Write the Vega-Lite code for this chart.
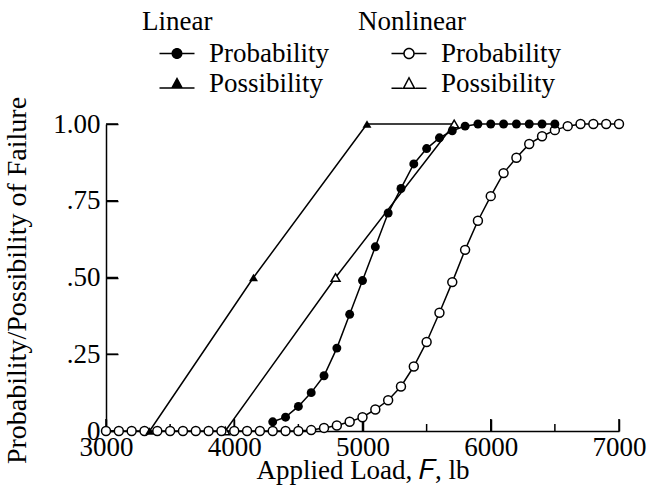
{
  "$schema": "https://vega.github.io/schema/vega-lite/v6.json",
  "width": 513,
  "height": 307,
  "autosize": "none",
  "padding": {"left": 106, "top": 124, "right": 36, "bottom": 65},
  "background": "white",
  "config": {
    "font": "Liberation Serif",
    "view": {"stroke": null},
    "axis": {
      "grid": false,
      "domainColor": "black",
      "domainWidth": 1.5,
      "tickColor": "black",
      "tickWidth": 1.5,
      "labelColor": "black",
      "labelFontSize": 27,
      "labelFont": "Liberation Serif",
      "labelFlush": false,
      "labelOverlap": false,
      "titleColor": "black",
      "titleFontSize": 27,
      "titleFont": "Liberation Serif",
      "titleFontWeight": "normal"
    },
    "legend": {
      "titleFont": "Liberation Serif",
      "titleFontSize": 27,
      "titleFontWeight": "normal",
      "titleColor": "black",
      "labelFont": "Liberation Serif",
      "labelFontSize": 27,
      "labelColor": "black",
      "padding": 0
    }
  },
  "datasets": {
    "curves": [
      {"model": "Linear", "measure": "Probability", "load": 4300, "p": 0.03},
      {"model": "Linear", "measure": "Probability", "load": 4400, "p": 0.045},
      {"model": "Linear", "measure": "Probability", "load": 4500, "p": 0.08},
      {"model": "Linear", "measure": "Probability", "load": 4600, "p": 0.125},
      {"model": "Linear", "measure": "Probability", "load": 4700, "p": 0.18},
      {"model": "Linear", "measure": "Probability", "load": 4800, "p": 0.27},
      {"model": "Linear", "measure": "Probability", "load": 4900, "p": 0.38},
      {"model": "Linear", "measure": "Probability", "load": 5000, "p": 0.49},
      {"model": "Linear", "measure": "Probability", "load": 5100, "p": 0.6},
      {"model": "Linear", "measure": "Probability", "load": 5200, "p": 0.71},
      {"model": "Linear", "measure": "Probability", "load": 5300, "p": 0.79},
      {"model": "Linear", "measure": "Probability", "load": 5400, "p": 0.87},
      {"model": "Linear", "measure": "Probability", "load": 5500, "p": 0.92},
      {"model": "Linear", "measure": "Probability", "load": 5600, "p": 0.955},
      {"model": "Linear", "measure": "Probability", "load": 5700, "p": 0.978},
      {"model": "Linear", "measure": "Probability", "load": 5800, "p": 0.993},
      {"model": "Linear", "measure": "Probability", "load": 5900, "p": 1.0},
      {"model": "Linear", "measure": "Probability", "load": 6000, "p": 1.0},
      {"model": "Linear", "measure": "Probability", "load": 6100, "p": 1.0},
      {"model": "Linear", "measure": "Probability", "load": 6200, "p": 1.0},
      {"model": "Linear", "measure": "Probability", "load": 6300, "p": 1.0},
      {"model": "Linear", "measure": "Probability", "load": 6400, "p": 1.0},
      {"model": "Linear", "measure": "Probability", "load": 6500, "p": 1.0},
      {"model": "Linear", "measure": "Possibility", "load": 3340, "p": 0},
      {"model": "Linear", "measure": "Possibility", "load": 4150, "p": 0.5},
      {"model": "Linear", "measure": "Possibility", "load": 5035, "p": 1.0},
      {"model": "Nonlinear", "measure": "Possibility", "load": 3930, "p": 0},
      {"model": "Nonlinear", "measure": "Possibility", "load": 4790, "p": 0.5},
      {"model": "Nonlinear", "measure": "Possibility", "load": 5715, "p": 1.0},
      {"model": "Nonlinear", "measure": "Probability", "load": 3000, "p": 0},
      {"model": "Nonlinear", "measure": "Probability", "load": 3100, "p": 0},
      {"model": "Nonlinear", "measure": "Probability", "load": 3200, "p": 0},
      {"model": "Nonlinear", "measure": "Probability", "load": 3300, "p": 0},
      {"model": "Nonlinear", "measure": "Probability", "load": 3400, "p": 0},
      {"model": "Nonlinear", "measure": "Probability", "load": 3500, "p": 0},
      {"model": "Nonlinear", "measure": "Probability", "load": 3600, "p": 0},
      {"model": "Nonlinear", "measure": "Probability", "load": 3700, "p": 0},
      {"model": "Nonlinear", "measure": "Probability", "load": 3800, "p": 0},
      {"model": "Nonlinear", "measure": "Probability", "load": 3900, "p": 0},
      {"model": "Nonlinear", "measure": "Probability", "load": 4000, "p": 0},
      {"model": "Nonlinear", "measure": "Probability", "load": 4100, "p": 0},
      {"model": "Nonlinear", "measure": "Probability", "load": 4200, "p": 0},
      {"model": "Nonlinear", "measure": "Probability", "load": 4300, "p": 0},
      {"model": "Nonlinear", "measure": "Probability", "load": 4400, "p": 0},
      {"model": "Nonlinear", "measure": "Probability", "load": 4500, "p": 0},
      {"model": "Nonlinear", "measure": "Probability", "load": 4600, "p": 0.003},
      {"model": "Nonlinear", "measure": "Probability", "load": 4700, "p": 0.01},
      {"model": "Nonlinear", "measure": "Probability", "load": 4800, "p": 0.018},
      {"model": "Nonlinear", "measure": "Probability", "load": 4900, "p": 0.03},
      {"model": "Nonlinear", "measure": "Probability", "load": 5000, "p": 0.045},
      {"model": "Nonlinear", "measure": "Probability", "load": 5100, "p": 0.07},
      {"model": "Nonlinear", "measure": "Probability", "load": 5200, "p": 0.1},
      {"model": "Nonlinear", "measure": "Probability", "load": 5300, "p": 0.145},
      {"model": "Nonlinear", "measure": "Probability", "load": 5400, "p": 0.21},
      {"model": "Nonlinear", "measure": "Probability", "load": 5500, "p": 0.29},
      {"model": "Nonlinear", "measure": "Probability", "load": 5600, "p": 0.385},
      {"model": "Nonlinear", "measure": "Probability", "load": 5700, "p": 0.485},
      {"model": "Nonlinear", "measure": "Probability", "load": 5800, "p": 0.59},
      {"model": "Nonlinear", "measure": "Probability", "load": 5900, "p": 0.685},
      {"model": "Nonlinear", "measure": "Probability", "load": 6000, "p": 0.765},
      {"model": "Nonlinear", "measure": "Probability", "load": 6100, "p": 0.84},
      {"model": "Nonlinear", "measure": "Probability", "load": 6200, "p": 0.89},
      {"model": "Nonlinear", "measure": "Probability", "load": 6300, "p": 0.935},
      {"model": "Nonlinear", "measure": "Probability", "load": 6400, "p": 0.96},
      {"model": "Nonlinear", "measure": "Probability", "load": 6500, "p": 0.98},
      {"model": "Nonlinear", "measure": "Probability", "load": 6600, "p": 0.993},
      {"model": "Nonlinear", "measure": "Probability", "load": 6700, "p": 1.0},
      {"model": "Nonlinear", "measure": "Probability", "load": 6800, "p": 1.0},
      {"model": "Nonlinear", "measure": "Probability", "load": 6900, "p": 1.0},
      {"model": "Nonlinear", "measure": "Probability", "load": 7000, "p": 1.0}
    ],
    "plateau": [
      {"load": 5035, "p": 1.0},
      {"load": 5715, "p": 1.0}
    ],
    "xMajorTicks": [
      {"load": 3000}, {"load": 4000}, {"load": 5000}, {"load": 6000}, {"load": 7000}
    ],
    "xMinorTicks": [
      {"load": 3500}, {"load": 4500}, {"load": 5500}, {"load": 6500}
    ],
    "yTicks": [
      {"p": 0}, {"p": 0.25}, {"p": 0.5}, {"p": 0.75}, {"p": 1}
    ]
  },
  "layer": [
    {
      "data": {"name": "curves"},
      "mark": {"type": "line", "color": "black", "strokeWidth": 1.5},
      "encoding": {
        "x": {
          "field": "load", "type": "quantitative",
          "scale": {"domain": [3000, 7000], "nice": false, "zero": false},
          "axis": {
            "orient": "bottom",
            "values": [3000, 4000, 5000, 6000, 7000],
            "format": "d",
            "domain": false,
            "ticks": true,
            "tickColor": "black",
            "tickOpacity": 1,
            "tickWidth": 1.5,
            "offset": -12,
            "tickSize": 12,
            "labelPadding": 3,
            "title": "Applied Load, 𝐹, lb",
            "titleBaseline": "alphabetic",
            "titleY": 59
          }
        },
        "y": {
          "field": "p", "type": "quantitative",
          "scale": {"domain": [0, 1], "nice": false},
          "axis": {
            "orient": "left",
            "values": [0, 0.25, 0.5, 0.75, 1],
            "labelExpr": "datum.value === 0 ? '0' : datum.value === 1 ? '1.00' : replace(format(datum.value, '.2f'), '0.', '.')",
            "domain": false,
            "ticks": true,
            "tickColor": "black",
            "tickOpacity": 1,
            "tickWidth": 1.5,
            "offset": -12,
            "tickSize": 12,
            "labelPadding": 6,
            "title": "Probability/Possibility of Failure",
            "titleFontSize": 28,
            "titleX": -87,
            "titleY": 156
          }
        },
        "detail": [{"field": "model"}, {"field": "measure"}]
      }
    },
    {
      "data": {"name": "plateau"},
      "mark": {"type": "line", "color": "black", "strokeWidth": 1.5},
      "encoding": {
        "x": {"field": "load", "type": "quantitative", "axis": null},
        "y": {"field": "p", "type": "quantitative", "axis": null}
      }
    },
    {
      "data": {"name": "xMajorTicks"},
      "mark": {"type": "rule", "color": "black", "strokeWidth": 1.5, "y2Offset": -12},
      "encoding": {
        "x": {"field": "load", "type": "quantitative", "axis": null},
        "y": {"datum": 0, "type": "quantitative", "axis": null},
        "y2": {"datum": 0}
      }
    },
    {
      "data": {"name": "xMinorTicks"},
      "mark": {"type": "rule", "color": "black", "strokeWidth": 1.5, "y2Offset": -7},
      "encoding": {
        "x": {"field": "load", "type": "quantitative", "axis": null},
        "y": {"datum": 0, "type": "quantitative", "axis": null},
        "y2": {"datum": 0}
      }
    },
    {
      "data": {"name": "yTicks"},
      "mark": {"type": "rule", "color": "black", "strokeWidth": 1.5, "x2Offset": 12},
      "encoding": {
        "y": {"field": "p", "type": "quantitative", "axis": null},
        "x": {"datum": 3000, "type": "quantitative", "axis": null},
        "x2": {"datum": 3000}
      }
    },
    {
      "data": {"name": "curves"},
      "transform": [{"filter": "datum.model === 'Nonlinear'"}],
      "mark": {"type": "point", "filled": true, "fill": "white", "stroke": "black", "strokeWidth": 1.5, "size": 80, "opacity": 1},
      "encoding": {
        "x": {
          "field": "load", "type": "quantitative",
          "axis": {"orient": "bottom", "values": [3000], "ticks": false, "labels": false, "domain": true, "domainColor": "black", "domainOpacity": 1, "title": null}
        },
        "y": {
          "field": "p", "type": "quantitative",
          "axis": {"orient": "left", "values": [0], "ticks": false, "labels": false, "domain": true, "domainColor": "black", "domainOpacity": 1, "title": null}
        },
        "shape": {
          "field": "measure", "type": "nominal",
          "scale": {"domain": ["Probability", "Possibility"], "range": ["circle", "triangle-up"]},
          "legend": null
        }
      }
    },
    {
      "data": {"name": "curves"},
      "transform": [{"filter": "datum.model === 'Linear'"}],
      "mark": {"type": "point", "filled": true, "color": "black", "size": 80, "opacity": 1},
      "encoding": {
        "x": {"field": "load", "type": "quantitative", "axis": null},
        "y": {"field": "p", "type": "quantitative", "axis": null},
        "shape": {
          "field": "measure", "type": "nominal",
          "scale": {"domain": ["Probability", "Possibility"], "range": ["circle", "triangle-up"]},
          "legend": null
        }
      }
    },
    {
      "data": {"name": "curves"},
      "transform": [{"filter": "false"}],
      "mark": {"type": "point", "filled": true, "color": "black", "size": 100, "opacity": 1},
      "encoding": {
        "x": {"field": "load", "type": "quantitative", "axis": null},
        "y": {"field": "p", "type": "quantitative", "axis": null},
        "shape": {
          "field": "measure", "type": "nominal",
          "scale": {
            "domain": ["Probability", "Possibility"],
            "range": [
              "M-3.5,-0.15H3.5V0.15H-3.5Z M1.1,0A1.1,1.1,0,1,1,-1.1,0A1.1,1.1,0,1,1,1.1,0Z",
              "M-3.5,0.75H3.5V1.05H-3.5Z M0,-1.3L1.25,1L-1.25,1Z"
            ]
          },
          "legend": {
            "title": "Linear",
            "orient": "none",
            "legendX": 36,
            "legendY": -115,
            "symbolSize": 100,
            "symbolOffset": 21.5,
            "labelOffset": 18.5,
            "titlePadding": 4,
            "rowPadding": 2,
            "symbolFillColor": "black",
            "symbolStrokeWidth": 0,
            "symbolOpacity": 1
          }
        }
      }
    },
    {
      "data": {"name": "curves"},
      "transform": [{"filter": "false"}],
      "mark": {"type": "point", "filled": true, "color": "black", "size": 100, "opacity": 1},
      "encoding": {
        "x": {"field": "load", "type": "quantitative", "axis": null},
        "y": {"field": "p", "type": "quantitative", "axis": null},
        "shape": {
          "field": "measure", "type": "nominal",
          "scale": {
            "domain": ["Probability", "Possibility"],
            "range": [
              "M-3.5,-0.15H-1.15V0.15H-3.5Z M1.15,-0.15H3.5V0.15H1.15Z M1.15,0A1.15,1.15,0,1,1,-1.15,0A1.15,1.15,0,1,1,1.15,0Z M0.85,0A0.85,0.85,0,1,0,-0.85,0A0.85,0.85,0,1,0,0.85,0Z",
              "M-3.5,0.8H-1.3V1.1H-3.5Z M1.3,0.8H3.5V1.1H1.3Z M0,-1.45L1.35,1.1L-1.35,1.1Z M0,-0.85L-0.85,0.8L0.85,0.8Z"
            ]
          },
          "legend": {
            "title": "Nonlinear",
            "orient": "none",
            "legendX": 252,
            "legendY": -115,
            "symbolSize": 100,
            "symbolOffset": 37.5,
            "labelOffset": 18.5,
            "titlePadding": 4,
            "rowPadding": 2,
            "symbolFillColor": "black",
            "symbolStrokeWidth": 0,
            "symbolOpacity": 1
          }
        }
      }
    }
  ],
  "resolve": {
    "scale": {"shape": "independent"},
    "axis": {"x": "independent", "y": "independent"}
  }
}
